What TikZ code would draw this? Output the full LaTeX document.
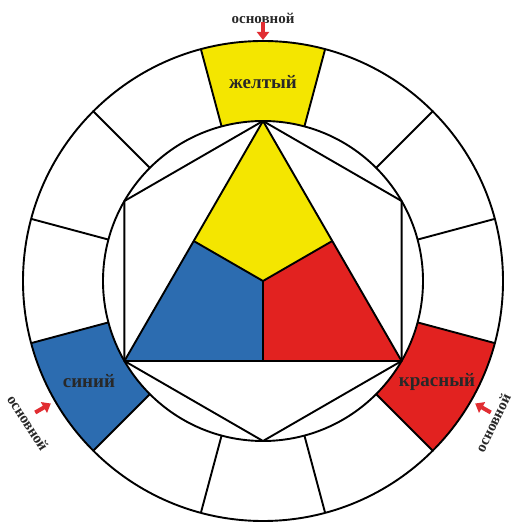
\documentclass[tikz,border=0pt]{standalone}
\usepackage{fontspec}
\setmainfont{Liberation Serif}
\usetikzlibrary{arrows.meta,calc}
\definecolor{cyel}{RGB}{244,230,0}
\definecolor{cblu}{RGB}{44,108,176}
\definecolor{cred}{RGB}{226,34,32}
\definecolor{carrow}{RGB}{225,45,50}
\definecolor{ctxt}{RGB}{40,40,40}
\begin{document}
\begin{tikzpicture}[x=1pt,y=1pt,line join=round,
  edge/.style={draw=black,line width=1.9pt},
  lab/.style={font=\bfseries\fontsize{19}{19}\selectfont,text=ctxt,inner sep=0pt},
  note/.style={font=\bfseries\fontsize{15}{15}\selectfont,text=ctxt,inner sep=0pt},
  marker/.style={carrow,line width=4pt,-{Triangle[width=12pt,length=8pt]}}]
\useasboundingbox (0,0) rectangle (515,527);
\fill[white] (0,0) rectangle (515,527);
\def\R{240}\def\r{160}
\coordinate (C) at (263,246);
% coloured ring segments
\fill[cyel] ([shift={(75:\R)}]C) arc[start angle=75,end angle=105,radius=\R]
  -- ([shift={(105:\r)}]C) arc[start angle=105,end angle=75,radius=\r] -- cycle;
\fill[cblu] ([shift={(195:\R)}]C) arc[start angle=195,end angle=225,radius=\R]
  -- ([shift={(225:\r)}]C) arc[start angle=225,end angle=195,radius=\r] -- cycle;
\fill[cred] ([shift={(315:\R)}]C) arc[start angle=315,end angle=345,radius=\R]
  -- ([shift={(345:\r)}]C) arc[start angle=345,end angle=315,radius=\r] -- cycle;
% ring
\draw[edge] (C) circle[radius=\R];
\draw[edge] (C) circle[radius=\r];
\foreach \a in {15,45,...,345}
  \draw[edge] ([shift={(\a:\r)}]C) -- ([shift={(\a:\R)}]C);
% triangle and hexagon vertices
\coordinate (T) at ([shift={(90:\r)}]C);
\coordinate (L) at ([shift={(210:\r)}]C);
\coordinate (Rt) at ([shift={(330:\r)}]C);
\coordinate (HL) at ([shift={(150:\r)}]C);
\coordinate (HB) at ([shift={(270:\r)}]C);
\coordinate (HR) at ([shift={(30:\r)}]C);
\coordinate (ML) at ($(T)!0.5!(L)$);
\coordinate (MR) at ($(T)!0.5!(Rt)$);
\coordinate (MB) at ($(L)!0.5!(Rt)$);
\fill[cyel] (T) -- (ML) -- (C) -- (MR) -- cycle;
\fill[cblu] (ML) -- (C) -- (MB) -- (L) -- cycle;
\fill[cred] (MR) -- (C) -- (MB) -- (Rt) -- cycle;
\draw[edge] (T) -- (L) -- (Rt) -- cycle;
\draw[edge] (ML) -- (C) -- (MR);
\draw[edge] (C) -- (MB);
\draw[edge] (T) -- (HL) -- (L) -- (HB) -- (Rt) -- (HR) -- cycle;
% labels
\node[lab] (ly) at ([shift={(90:199)}]C) {желтый};
\node[lab] (lb) at ([shift={(210:201)}]C) {синий};
\node[lab] (lr) at ([shift={(330:201)}]C) {красный};
\node[note] (nt) at (263,509) {основной};
\node[note,rotate=-57] (nl) at (28,104) {основной};
\node[note,rotate=64] (nr) at (493,104) {основной};
% arrows
\coordinate (a1s) at ([shift={(90:259)}]C);
\coordinate (a1e) at ([shift={(90:241)}]C);
\coordinate (a2s) at ([shift={(210:263)}]C);
\coordinate (a2e) at ([shift={(210:245)}]C);
\coordinate (a3s) at ([shift={(330:263)}]C);
\coordinate (a3e) at ([shift={(330:245)}]C);
\draw[marker] (a1s) -- (a1e);
\draw[marker] (a2s) -- (a2e);
\draw[marker] (a3s) -- (a3e);
\end{tikzpicture}
\end{document}
